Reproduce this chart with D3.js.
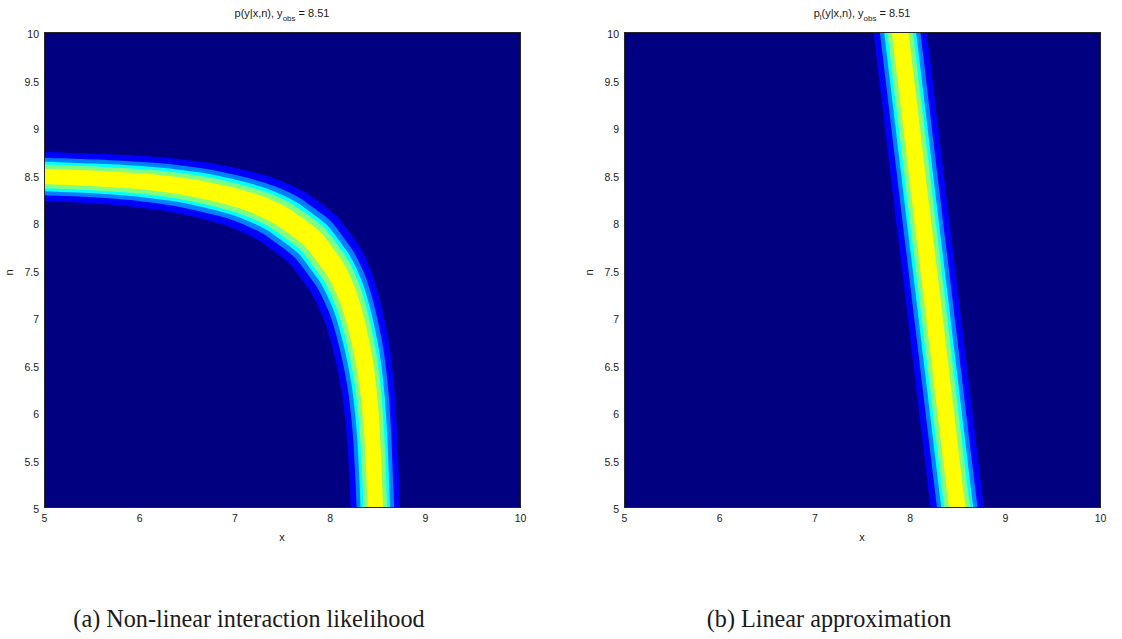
<!DOCTYPE html>
<html><head><meta charset="utf-8">
<script src="https://cdn.jsdelivr.net/npm/d3@7"></script>
<style>
body{margin:0;background:#fff}
svg text{font-family:"Liberation Sans",Arial,Helvetica,sans-serif;fill:#1a1a1a}
</style>
</head><body>
<svg id="chart" width="1122" height="639"></svg>
<script>
// ---- data ----
const xTicks = [5, 6, 7, 8, 9, 10];
const nTicks = [5, 5.5, 6, 6.5, 7, 7.5, 8, 8.5, 9, 9.5, 10];
const yObs = "8.51";
// centre line (peak of likelihood) of the non-linear panel
const leftX = [5.0, 5.5, 6.0, 6.5, 7.0, 7.25, 7.5, 7.6, 7.75, 7.82, 7.88, 7.99, 8.06, 8.18, 8.26, 8.37, 8.43, 8.46, 8.48];
const leftN = [8.48, 8.46, 8.43, 8.37, 8.26, 8.18, 8.06, 7.99, 7.88, 7.82, 7.75, 7.6, 7.5, 7.25, 7.0, 6.5, 6.0, 5.5, 5.0];
// centre line of the linear approximation panel
const rightX = [7.90, 8.50];
const rightN = [10, 5];
// contour level offsets (outer to inner, along both axes) and fill colours
const levelOffsets = [0.25, 0.19, 0.15, 0.12, 0.078];
const levelColors = ["#0000ff", "#0080ff", "#00ffff", "#80ff80", "#ffff00"];
const bgColor = "#000080";
const titles = [["p", "", "(y|x,n), y", "obs", " = " + yObs], ["p", "l", "(y|x,n), y", "obs", " = " + yObs]];
const captions = ["(a) Non-linear interaction likelihood", "(b) Linear approximation"];

// ---- layout ----
const svg = d3.select("#chart");
const panels = [
  {left: 44, top: 32, w: 476, h: 475, cx: leftX, cn: leftN, title: titles[0], caption: captions[0], capX: 249},
  {left: 624, top: 32, w: 476, h: 475, cx: rightX, cn: rightN, title: titles[1], caption: captions[1], capX: 829}
];

panels.forEach((p, i) => {
  const g = svg.append("g").attr("transform", `translate(${p.left},${p.top})`);
  const x = d3.scaleLinear().domain([5, 10]).range([0, p.w]);
  const y = d3.scaleLinear().domain([5, 10]).range([p.h, 0]);

  const clipId = "clip" + i;
  g.append("clipPath").attr("id", clipId).append("rect").attr("width", p.w).attr("height", p.h);
  const plot = g.append("g").attr("clip-path", `url(#${clipId})`);
  plot.append("rect").attr("width", p.w).attr("height", p.h).attr("fill", bgColor);

  const line = d3.line().curve(d3.curveCatmullRom.alpha(0.5));
  function side(off) {
    const pts = p.cx.map((v, k) => [x(v + off), y(p.cn[k] + off)]);
    // extend both ends along the tangent so the band leaves the plot area
    const ext = (a, b) => {
      const dx = a[0] - b[0], dy = a[1] - b[1], L = Math.hypot(dx, dy);
      return [a[0] + dx / L * 80, a[1] + dy / L * 80];
    };
    const first = ext(pts[0], pts[1]);
    const last = ext(pts[pts.length - 1], pts[pts.length - 2]);
    return [first, ...pts, last];
  }
  levelOffsets.forEach((off, k) => {
    const upper = side(off);
    const lower = side(-off).reverse();
    const d = line(upper) + line(lower).replace(/^M/, "L") + "Z";
    plot.append("path").attr("d", d).attr("fill", levelColors[k]);
  });

  // frame
  g.append("rect").attr("width", p.w).attr("height", p.h)
    .attr("fill", "none").attr("stroke", "#262626").attr("stroke-width", 1)
    .attr("shape-rendering", "crispEdges");

  // axes
  const ax = g.append("g").attr("transform", `translate(0,${p.h})`)
    .call(d3.axisBottom(x).tickValues(xTicks).tickSize(0).tickPadding(8).tickFormat(d3.format("")));
  const ay = g.append("g")
    .call(d3.axisLeft(y).tickValues(nTicks).tickSize(0).tickPadding(5).tickFormat(d3.format("")));
  [ax, ay].forEach(a => {
    a.select(".domain").remove();
    a.selectAll("text").attr("font-size", 10.5).attr("fill", "#1a1a1a")
      .style("font-family", '"Liberation Sans",Arial,sans-serif');
  });
  ay.selectAll("text").attr("dy", "0.55em");

  // axis labels
  g.append("text").attr("x", p.w / 2).attr("y", p.h + 34).attr("text-anchor", "middle")
    .attr("font-size", 11).text("x");
  g.append("text").attr("transform", `translate(-31,${p.h / 2 + 3}) rotate(-90)`)
    .attr("text-anchor", "middle").attr("font-size", 11).text("n");

  // title
  const t = g.append("text").attr("x", p.w / 2).attr("y", -15).attr("text-anchor", "middle")
    .attr("font-size", 11);
  t.append("tspan").text(p.title[0]);
  if (p.title[1]) t.append("tspan").attr("font-size", 8).attr("dy", 3).text(p.title[1]);
  t.append("tspan").attr("dy", p.title[1] ? -3 : 0).text(p.title[2]);
  t.append("tspan").attr("font-size", 8).attr("dy", 4).text(p.title[3]);
  t.append("tspan").attr("dy", -4).text(p.title[4]);

  // caption
  svg.append("text").attr("x", p.capX).attr("y", 627).attr("text-anchor", "middle")
    .style("font-family", '"Liberation Serif","Times New Roman",serif')
    .attr("font-size", 24.2).attr("fill", "#111").text(p.caption);
});
</script>
</body></html>
